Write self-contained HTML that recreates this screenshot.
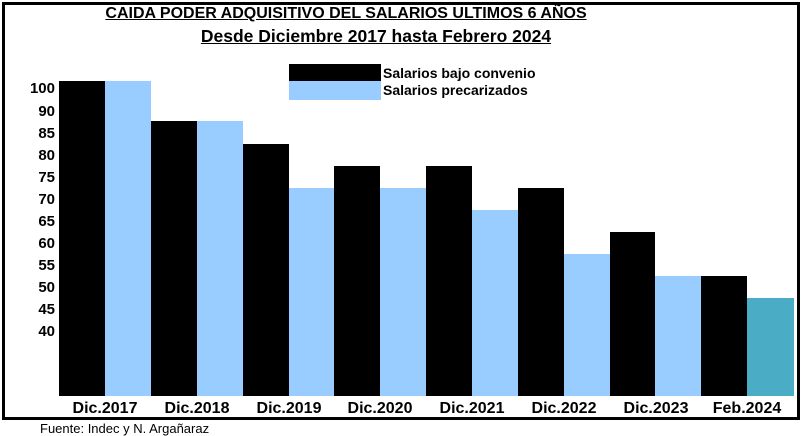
<!DOCTYPE html>
<html><head><style>
body{margin:0;width:803px;height:436px;background:#fff;position:relative;overflow:hidden;font-family:"Liberation Sans",Arial,sans-serif}
.a{position:absolute}
.b{position:absolute;background:#000}
.l{position:absolute;background:#99ccff}
.y{position:absolute;right:748px;font-weight:bold;font-size:15px;line-height:15px}
.x{position:absolute;top:400px;width:92px;text-align:center;font-weight:bold;font-size:16px}
</style></head><body>
<div class="a" style="left:2px;top:2px;width:792px;height:412px;border:3px solid #000"></div>
<div class="a" style="left:100px;top:5px;width:492px;text-align:center;font-weight:bold;font-size:16px;text-decoration:underline;white-space:nowrap">CAIDA PODER ADQUISITIVO DEL SALARIOS ULTIMOS 6 AÑOS</div>
<div class="a" style="left:180px;top:26px;width:392px;text-align:center;font-weight:bold;font-size:17.5px;text-decoration:underline;white-space:nowrap">Desde Diciembre 2017 hasta Febrero 2024</div>
<div class="b" style="left:289px;top:64px;width:92px;height:17px"></div>
<div class="l" style="left:289px;top:81px;width:92px;height:19px"></div>
<div class="a" style="left:383px;top:65px;font-size:14px;font-weight:bold">Salarios bajo convenio</div>
<div class="a" style="left:383px;top:82px;font-size:14px;font-weight:bold">Salarios precarizados</div>
<div class="y" style="top:81px">100</div><div class="y" style="top:104px">90</div><div class="y" style="top:126px">85</div><div class="y" style="top:148px">80</div><div class="y" style="top:170px">75</div><div class="y" style="top:192px">70</div><div class="y" style="top:214px">65</div><div class="y" style="top:236px">60</div><div class="y" style="top:258px">55</div><div class="y" style="top:280px">50</div><div class="y" style="top:302px">45</div><div class="y" style="top:324px">40</div>
<div class="b" style="left:59px;top:81px;width:46px;height:315px"></div><div class="l" style="left:105px;top:81px;width:46px;height:315px"></div>
<div class="b" style="left:151px;top:121px;width:46px;height:275px"></div><div class="l" style="left:197px;top:121px;width:46px;height:275px"></div>
<div class="b" style="left:243px;top:144px;width:46px;height:252px"></div><div class="l" style="left:289px;top:188px;width:45px;height:208px"></div>
<div class="b" style="left:334px;top:166px;width:46px;height:230px"></div><div class="l" style="left:380px;top:188px;width:46px;height:208px"></div>
<div class="b" style="left:426px;top:166px;width:46px;height:230px"></div><div class="l" style="left:472px;top:210px;width:46px;height:186px"></div>
<div class="b" style="left:518px;top:188px;width:46px;height:208px"></div><div class="l" style="left:564px;top:254px;width:46px;height:142px"></div>
<div class="b" style="left:610px;top:232px;width:45px;height:164px"></div><div class="l" style="left:655px;top:276px;width:46px;height:120px"></div>
<div class="b" style="left:701px;top:276px;width:46px;height:120px"></div><div class="a" style="left:747px;top:298px;width:47px;height:98px;background:#4bacc6"></div>
<div class="x" style="left:59px">Dic.2017</div><div class="x" style="left:151px">Dic.2018</div><div class="x" style="left:243px">Dic.2019</div><div class="x" style="left:334px">Dic.2020</div><div class="x" style="left:426px">Dic.2021</div><div class="x" style="left:518px">Dic.2022</div><div class="x" style="left:610px">Dic.2023</div><div class="x" style="left:701px">Feb.2024</div>
<div class="a" style="left:40px;top:421px;font-size:13px">Fuente: Indec y N. Argañaraz</div>
</body></html>
